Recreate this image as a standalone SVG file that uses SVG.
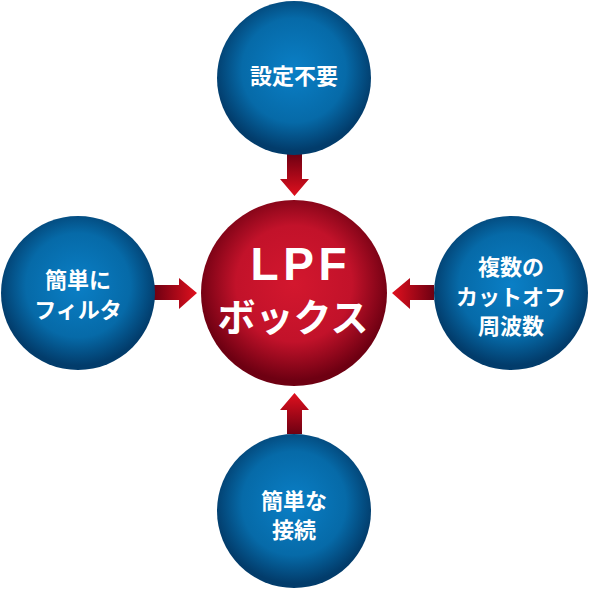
<svg xmlns="http://www.w3.org/2000/svg" width="589" height="589" viewBox="0 0 589 589">
<defs>
<radialGradient id="blue" cx="50%" cy="45%" r="52%">
<stop offset="0" stop-color="#0a7fc6"/>
<stop offset="0.65" stop-color="#066aa8"/>
<stop offset="1" stop-color="#023c6b"/>
</radialGradient>
<radialGradient id="red" cx="50%" cy="45%" r="52%">
<stop offset="0" stop-color="#d3172e"/>
<stop offset="0.6" stop-color="#c2122a"/>
<stop offset="1" stop-color="#6e0012"/>
</radialGradient>
<linearGradient id="arrD" x1="0" y1="0" x2="0" y2="1"><stop offset="0" stop-color="#6e0012"/><stop offset="1" stop-color="#e0101e"/></linearGradient>
<linearGradient id="arrU" x1="0" y1="1" x2="0" y2="0"><stop offset="0" stop-color="#6e0012"/><stop offset="1" stop-color="#e0101e"/></linearGradient>
<linearGradient id="arrR" x1="0" y1="0" x2="1" y2="0"><stop offset="0" stop-color="#6e0012"/><stop offset="1" stop-color="#e0101e"/></linearGradient>
<linearGradient id="arrL" x1="1" y1="0" x2="0" y2="0"><stop offset="0" stop-color="#6e0012"/><stop offset="1" stop-color="#e0101e"/></linearGradient>
</defs>
<style>
.t{font-family:"Noto Sans CJK JP","Noto Sans",sans-serif;font-weight:bold;fill:#fff;text-anchor:middle;font-size:22px}
.lpf{font-family:"Liberation Sans",Arial,sans-serif;font-size:46px}
.box{font-size:38px}
</style>
<g id="connectors">
<path d="M287,154 H302 V179 H309 L294.5,196 L280,179 H287 Z" fill="url(#arrD)"/>
<path d="M287,434 H302 V410 H309 L294.5,393 L280,410 H287 Z" fill="url(#arrU)"/>
<path d="M154,285 V300 H179 V309 L197,293 L179,278 V285 Z" fill="url(#arrR)"/>
<path d="M434,285 V300 H410 V309 L392,293 L410,278 V285 Z" fill="url(#arrL)"/>
</g>
<g id="center">
<circle cx="294" cy="293" r="93" fill="url(#red)"/>
<text class="t lpf" x="298.5" y="280" textLength="96" lengthAdjust="spacing">LPF</text>
<text class="t box" x="293" y="331">ボックス</text>
</g>
<g id="top">
<circle cx="294" cy="78" r="77" fill="url(#blue)"/>
<text class="t" x="294" y="84">設定不要</text>
</g>
<g id="left">
<circle cx="78" cy="293" r="77" fill="url(#blue)"/>
<text class="t" x="78" y="288">簡単に</text>
<text class="t" x="78" y="318">フィルタ</text>
</g>
<g id="right">
<circle cx="511" cy="293" r="77" fill="url(#blue)"/>
<text class="t" x="511" y="275">複数の</text>
<text class="t" x="511" y="305">カットオフ</text>
<text class="t" x="511" y="334">周波数</text>
</g>
<g id="bottom">
<circle cx="294" cy="511" r="77" fill="url(#blue)"/>
<text class="t" x="294" y="509">簡単な</text>
<text class="t" x="294" y="538">接続</text>
</g>
</svg>
